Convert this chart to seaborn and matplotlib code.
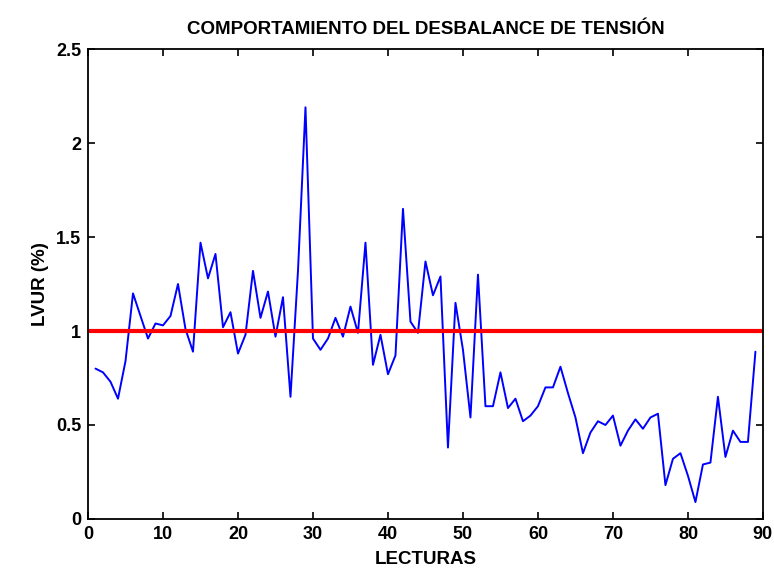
import numpy as np
import pandas as pd
import matplotlib
matplotlib.use('Agg')
import matplotlib.pyplot as plt
from matplotlib.ticker import FuncFormatter
import seaborn as sns

# lecturas 1..89 y valores LVUR (%)
lecturas = list(range(1, 90))
lvur = [0.80, 0.78, 0.73, 0.64, 0.84, 1.20, 1.08, 0.96, 1.04, 1.03,
        1.08, 1.25, 1.01, 0.89, 1.47, 1.28, 1.41, 1.02, 1.10, 0.88,
        0.98, 1.32, 1.07, 1.21, 0.97, 1.18, 0.65, 1.32, 2.19, 0.96,
        0.90, 0.96, 1.07, 0.97, 1.13, 0.99, 1.47, 0.82, 0.98, 0.77,
        0.87, 1.65, 1.05, 0.99, 1.37, 1.19, 1.29, 0.38, 1.15, 0.90,
        0.54, 1.30, 0.60, 0.60, 0.78, 0.59, 0.64, 0.52, 0.55, 0.60,
        0.70, 0.70, 0.81, 0.67, 0.54, 0.35, 0.46, 0.52, 0.50, 0.55,
        0.39, 0.47, 0.53, 0.48, 0.54, 0.56, 0.18, 0.32, 0.35, 0.23,
        0.09, 0.29, 0.30, 0.65, 0.33, 0.47, 0.41, 0.41, 0.89]
limite = 1.0

df = pd.DataFrame({'LECTURAS': lecturas, 'LVUR': lvur})

sns.set_style('ticks')
plt.rcParams['font.family'] = ['Liberation Sans', 'DejaVu Sans']
plt.rcParams['font.weight'] = 'bold'
plt.rcParams['text.color'] = 'black'
plt.rcParams['axes.labelcolor'] = 'black'
plt.rcParams['xtick.direction'] = 'in'
plt.rcParams['ytick.direction'] = 'in'

fig = plt.figure(figsize=(7.74, 5.71), dpi=100)
ax = fig.add_axes([0.1137, 0.0911, 0.872, 0.823])

sns.lineplot(data=df, x='LECTURAS', y='LVUR', color='#0000ff', linewidth=1.4, ax=ax)
ax.axhline(limite, color='#ff0000', linewidth=3)

ax.set_xlim(0, 90)
ax.set_ylim(0, 2.5)
ax.set_xticks(np.arange(0, 91, 10))
ax.set_yticks(np.arange(0, 2.51, 0.5))
ax.yaxis.set_major_formatter(FuncFormatter(lambda v, p: '%g' % v))
ax.tick_params(top=True, right=True, length=5, width=1.2, labelsize=13,
               colors='black', pad=5)
for s in ax.spines.values():
    s.set_visible(True)
    s.set_linewidth(1.3)
    s.set_color('black')

ax.set_title('COMPORTAMIENTO DEL DESBALANCE DE TENSIÓN', fontsize=13.5,
             fontweight='bold', pad=11)
ax.set_xlabel('LECTURAS', fontsize=13.5, fontweight='bold', labelpad=6)
ax.set_ylabel('LVUR (%)', fontsize=13.5, fontweight='bold', labelpad=5)

fig.savefig('out.png', dpi=100)
